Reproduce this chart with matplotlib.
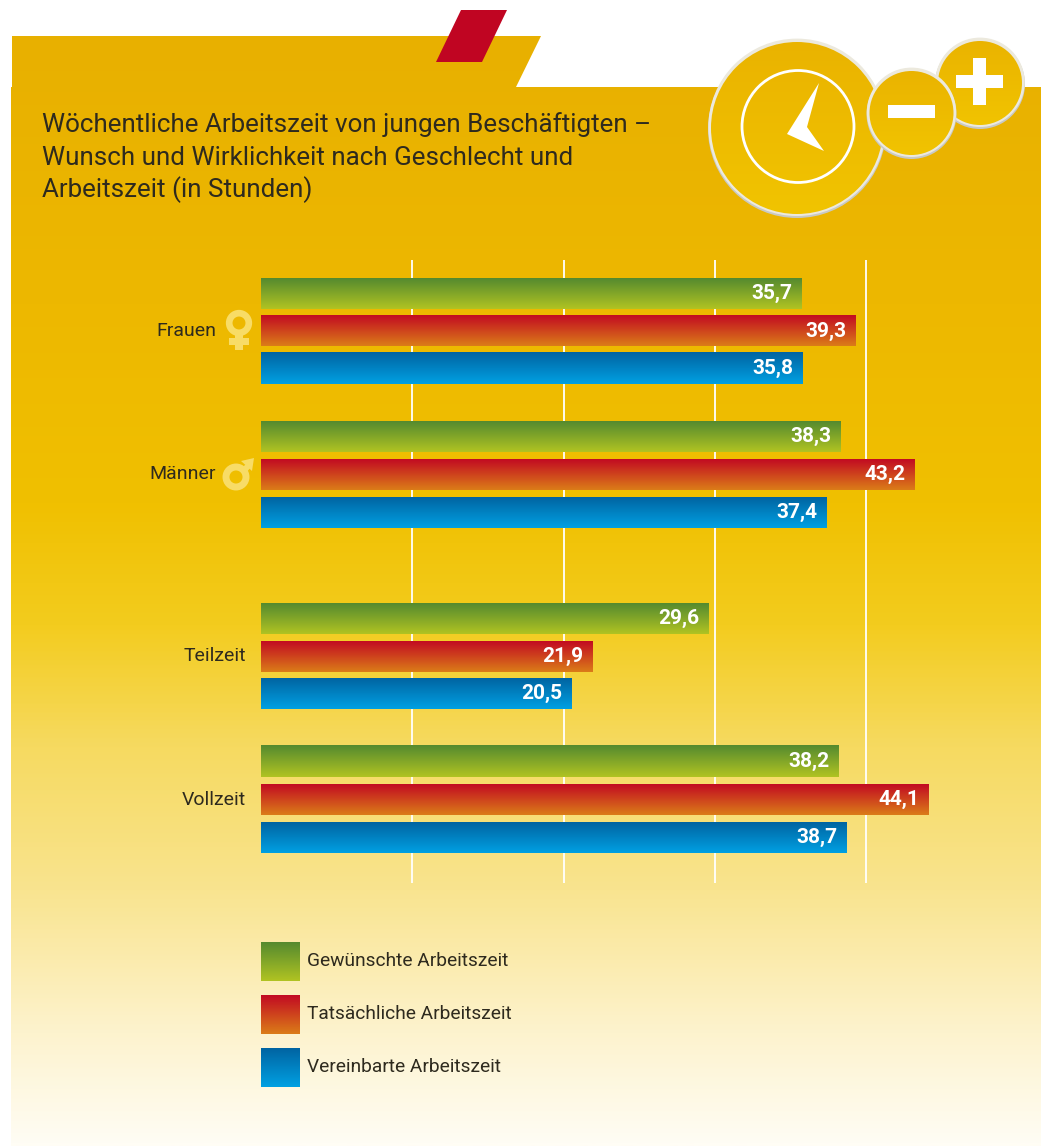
import numpy as np
import matplotlib
matplotlib.use('Agg')
import matplotlib.pyplot as plt
from matplotlib.colors import LinearSegmentedColormap
from matplotlib.patches import Circle, Polygon, Rectangle

W, H = 1046, 1146

title_lines = ['Wöchentliche Arbeitszeit von jungen Beschäftigten –',
               'Wunsch und Wirklichkeit nach Geschlecht und',
               'Arbeitszeit (in Stunden)']
groups = ['Frauen', 'Männer', 'Teilzeit', 'Vollzeit']
series = ['Gewünschte Arbeitszeit', 'Tatsächliche Arbeitszeit', 'Vereinbarte Arbeitszeit']
gewuenscht = [35.7, 38.3, 29.6, 38.2]
tatsaechlich = [39.3, 43.2, 21.9, 44.1]
vereinbart = [35.8, 37.4, 20.5, 38.7]
grid_ticks = [10, 20, 30, 40]

# layout in reference pixels
group_y = [331, 474.5, 656, 799.5]
label_y = [331, 474, 656, 800]
bar_step = 37.8
bar_h = 31
px_per_unit = 15.13
x0 = 261
label_right = [216, 216, 246, 246]

gradients = [('#558A2F', '#B0C322'), ('#C20B22', '#DB7C18'), ('#0064A2', '#00A0E2')]

plt.rcParams['font.family'] = ['Roboto', 'DejaVu Sans']
TXT = '#2e2a1e'

fig = plt.figure(figsize=(W / 100, H / 100), dpi=100)
bg = fig.add_axes([0, 0, 1, 1])
bg.set_xlim(0, W)
bg.set_ylim(H, 0)
bg.axis('off')

# page background, clipped to the tab shape
cmap = LinearSegmentedColormap.from_list('page', [
    (0.0, '#E8B000'), (0.24, '#EDB800'), (0.42, '#F0C000'), (0.53, '#F3CC1E'),
    (0.64, '#F6DA60'), (0.77, '#F9E48F'), (0.90, '#FDF3CE'), (1.0, '#FFFDF5')])
im = bg.imshow(np.linspace(0, 1, 512).reshape(-1, 1), cmap=cmap, aspect='auto',
               extent=[0, W, H, 36], interpolation='bilinear')
shape = Polygon([(12, 36), (541, 36), (516, 87), (1041, 87), (1041, H), (11, H), (11, 87), (12, 87)],
                closed=True, transform=bg.transData, facecolor='none', edgecolor='none')
bg.add_patch(shape)
im.set_clip_path(shape)

bg.add_patch(Polygon([(461, 10), (507, 10), (482, 62), (436, 62)], color='#C00522', lw=0))

badge_cmap = LinearSegmentedColormap.from_list('badge', ['#EAB300', '#F1C400'])


def badge(x, y, r, z):
    # grey shadow at the bottom, pale rim on top
    bg.add_patch(Circle((x, y + 1), r, color='#C9C9C4', lw=0, zorder=z))
    bg.add_patch(Circle((x, y - 0.7), r - 0.3, color='#ECE9DD', lw=0, zorder=z + 0.1))
    c = Circle((x, y), r - 3, facecolor='none', lw=0, zorder=z)
    bg.add_patch(c)
    g = bg.imshow(np.linspace(0, 1, 64).reshape(-1, 1), cmap=badge_cmap, aspect='auto',
                  extent=[x - r, x + r, y + r, y - r], interpolation='bilinear', zorder=z + 0.2)
    g.set_clip_path(c)


# clock and plus/minus icons
badge(797, 128, 89, 1)
badge(980, 83, 45, 1.5)
badge(911.5, 113, 45, 2)
bg.add_patch(Circle((798, 126.5), 56, facecolor='none', edgecolor='white', lw=2, zorder=3))
bg.add_patch(Polygon([(819, 83), (807, 127), (824, 151), (787, 134)], color='white', lw=0, zorder=3))
bg.add_patch(Rectangle((956, 75), 47, 13, color='white', lw=0, zorder=3))
bg.add_patch(Rectangle((973, 58), 13, 47, color='white', lw=0, zorder=3))
bg.add_patch(Rectangle((888, 105), 47, 13, color='white', lw=0, zorder=3))

# gender symbols
sym = '#F8DC66'
bg.add_patch(Circle((239, 323), 9.8, facecolor='none', edgecolor=sym, lw=4.8))
bg.add_patch(Rectangle((235, 333), 8, 17, color=sym, lw=0))
bg.add_patch(Rectangle((229, 338), 20, 7, color=sym, lw=0))
bg.add_patch(Circle((236, 477), 10, facecolor='none', edgecolor=sym, lw=5))
bg.add_patch(Polygon([(240, 469), (249, 462), (252, 466), (245, 474)], color=sym, lw=0))
bg.add_patch(Polygon([(241, 461), (254, 458), (252, 471)], color=sym, lw=0))

for line, y in zip(title_lines, [125, 158, 190]):
    bg.text(42, y, line, fontsize=18.7, color=TXT, va='center', ha='left', zorder=5)

# chart axes: x in hours, y in pixels
ax = fig.add_axes([x0 / W, (H - 883) / H, (W - x0) / W, (883 - 260) / H])
ax.patch.set_visible(False)
ax.set_xlim(0, (W - x0) / px_per_unit)
ax.set_ylim(883, 260)
for s in ax.spines.values():
    s.set_visible(False)
ax.set_xticks(grid_ticks)
ax.set_yticks([])
ax.tick_params(length=0, labelbottom=False)
ax.grid(axis='x', color='white', lw=1.3)
ax.set_axisbelow(True)


def gradient_fill(a, rect, colors):
    cm = LinearSegmentedColormap.from_list('g', colors)
    x, y, w, h = rect.get_x(), rect.get_y(), rect.get_width(), rect.get_height()
    a.imshow(np.linspace(0, 1, 64).reshape(-1, 1), cmap=cm, aspect='auto', zorder=3,
             extent=[x, x + w, y + h, y], interpolation='bilinear')


for i, vals in enumerate([gewuenscht, tatsaechlich, vereinbart]):
    ys = [g + (i - 1) * bar_step for g in group_y]
    bars = ax.barh(ys, vals, height=bar_h, color='none', zorder=2)
    for b, v in zip(bars, vals):
        gradient_fill(ax, b, gradients[i])
        ax.annotate(f'{v:.1f}'.replace('.', ','), (v, b.get_y() + bar_h / 2), xytext=(-6.5, 0),
                    textcoords='offset points', ha='right', va='center', color='white',
                    fontsize=15, fontweight='bold', zorder=4)
ax.set_xlim(0, (W - x0) / px_per_unit)
ax.set_ylim(883, 260)

for name, y, xr in zip(groups, label_y, label_right):
    bg.text(xr, y, name, fontsize=14, color=TXT, ha='right', va='center')

# legend
legend_y = [943, 996, 1049]
for name, y, cols in zip(series, legend_y, gradients):
    r = Rectangle((261, y), 39, 38.5, color='none', lw=0)
    bg.add_patch(r)
    gradient_fill(bg, r, cols)
    bg.text(307, y + 18, name, fontsize=13.8, color=TXT, ha='left', va='center')
bg.set_xlim(0, W)
bg.set_ylim(H, 0)

fig.savefig('out.png', dpi=100, facecolor='white')
